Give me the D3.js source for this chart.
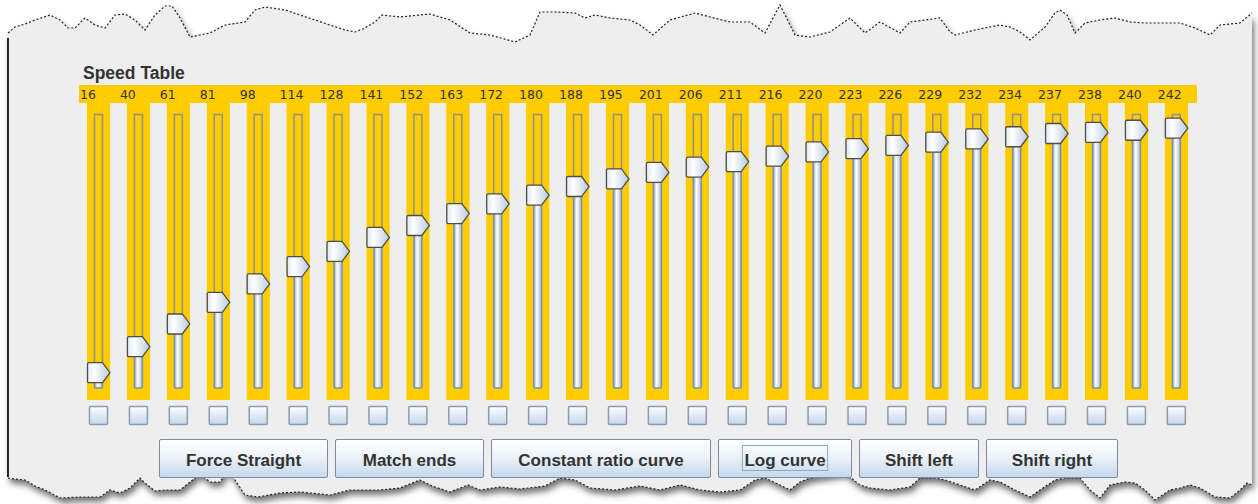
<!DOCTYPE html>
<html>
<head>
<meta charset="utf-8">
<script src="https://cdn.jsdelivr.net/npm/d3@7"></script>
<style>
  body { margin: 0; background: #ffffff; }
  svg { display: block; }
</style>
</head>
<body>
<div id="chart"></div>
<script>
// Speed table values (one slider per speed step)
var speedSteps = d3.range(1, 29);
var speedValues = [16, 40, 61, 81, 98, 114, 128, 141, 152, 163, 172, 180, 188, 195,
                   201, 206, 211, 216, 220, 223, 226, 229, 232, 234, 237, 238, 240, 242];
var valueDomain = [0, 255];
var buttonLabels = ["Force Straight", "Match ends", "Constant ratio curve", "Log curve", "Shift left", "Shift right"];
var buttonWidths = [168, 148, 219, 133, 119, 131];
var focusedButton = "Log curve";
var title = "Speed Table";

// torn paper edge outline (decoration only)
var topEdge = [[8,33],[15,27],[25,24],[35,20],[50,15],[60,20],[68,28],[75,28],[85,18],[95,25],[105,28],[115,15],[125,14],[135,20],[145,30],[155,15],[165,6],[172,6],[180,18],[190,37],[200,35],[210,33],[225,25],[245,22],[255,10],[265,7],[285,10],[300,15],[315,20],[330,25],[345,30],[355,32],[365,28],[375,22],[382,15],[400,17],[430,14],[450,20],[470,33],[490,35],[515,42],[530,35],[540,12],[555,12],[575,13],[585,18],[595,15],[610,18],[630,20],[640,25],[653,35],[670,20],[695,13],[710,17],[730,22],[750,22],[765,33],[780,5],[795,35],[810,37],[830,32],[850,18],[865,33],[880,22],[900,33],[910,22],[925,20],[940,18],[950,32],[955,35],[975,30],[1000,25],[1010,27],[1020,32],[1030,40],[1045,27],[1055,13],[1060,10],[1067,15],[1075,33],[1085,23],[1100,20],[1115,18],[1130,22],[1145,23],[1160,23],[1180,23],[1195,28],[1210,35],[1220,25],[1240,23],[1252,13]];
var bottomEdge = [[8,478],[15,479],[25,480],[35,486],[45,490],[60,498],[80,497],[100,497],[110,490],[120,493],[130,488],[140,478],[145,483],[155,491],[165,490],[180,490],[195,478],[200,474],[210,482],[220,482],[228,470],[235,480],[245,495],[258,497],[280,493],[300,492],[330,495],[350,490],[380,490],[400,488],[420,480],[432,486],[450,492],[468,485],[480,490],[500,487],[520,489],[545,486],[560,478],[575,480],[590,488],[615,490],[640,486],[660,490],[680,485],[700,490],[720,492],[740,490],[755,480],[765,478],[780,485],[790,490],[800,482],[810,478],[845,473],[860,485],[870,488],[890,490],[910,487],[920,478],[935,478],[945,480],[960,485],[975,490],[990,480],[1000,482],[1015,490],[1030,497],[1040,490],[1055,480],[1065,478],[1080,478],[1090,490],[1100,498],[1110,485],[1125,482],[1135,483],[1145,490],[1155,500],[1170,490],[1180,488],[1190,485],[1200,488],[1215,497],[1230,498],[1240,490],[1247,483],[1252,485]];

var width = 1258, height = 504;

var svg = d3.select("#chart").append("svg")
    .attr("width", width)
    .attr("height", height);

var defs = svg.append("defs");

// drop shadow for the torn panel
var shadow = defs.append("filter").attr("id", "shadow")
    .attr("x", "-5%").attr("y", "-10%").attr("width", "110%").attr("height", "125%");
shadow.append("feDropShadow")
    .attr("dx", 2).attr("dy", 5).attr("stdDeviation", 3)
    .attr("flood-color", "#444").attr("flood-opacity", 0.75);

function gradient(id, horizontal, stops) {
    var g = defs.append("linearGradient").attr("id", id)
        .attr("x1", 0).attr("y1", 0)
        .attr("x2", horizontal ? 1 : 0).attr("y2", horizontal ? 0 : 1);
    stops.forEach(function (s) {
        g.append("stop").attr("offset", s[0]).attr("stop-color", s[1]);
    });
}
gradient("thumbFill", true, [["0%", "#dde8f4"], ["30%", "#ffffff"], ["100%", "#b7cbe1"]]);
gradient("trackFill", true, [["0%", "#8ea3bd"], ["40%", "#ffffff"], ["100%", "#a4b8d1"]]);
gradient("boxFill", false, [["0%", "#ffffff"], ["100%", "#c3d5ea"]]);
gradient("buttonFill", false, [["0%", "#ffffff"], ["45%", "#edf3fa"], ["100%", "#c5d7eb"]]);

// panel with torn top / bottom edges
var outline = topEdge.concat(bottomEdge.slice().reverse());
var line = d3.line();

svg.append("path")
    .attr("d", line(outline) + "Z")
    .attr("fill", "#eeeeee")
    .attr("filter", "url(#shadow)");

svg.append("path")
    .attr("d", line(topEdge))
    .attr("fill", "none")
    .attr("stroke", "#222")
    .attr("stroke-width", 1.2)
    .attr("stroke-dasharray", "2,2");

svg.append("path")
    .attr("d", line(bottomEdge))
    .attr("fill", "none")
    .attr("stroke", "#222")
    .attr("stroke-width", 1.2)
    .attr("stroke-dasharray", "2,2");

svg.append("line")
    .attr("x1", 8).attr("x2", 8)
    .attr("y1", 38).attr("y2", 477)
    .attr("stroke", "#111").attr("stroke-width", 1.8);

// scales
var x = d3.scaleBand()
    .domain(speedSteps)
    .range([87, 1188])
    .paddingInner(0.42)
    .paddingOuter(0);

var y = d3.scaleLinear()
    .domain(valueDomain)
    .range([390, 114]);

var bw = x.bandwidth();
var headerTop = 85, headerBottom = 103, colBottom = 400;
var trackTop = 114, trackBottom = 388;

// title
svg.append("text")
    .attr("x", 83).attr("y", 79)
    .attr("font-family", "'Liberation Sans', Arial, sans-serif")
    .attr("font-weight", "bold")
    .attr("font-size", 17.5)
    .attr("fill", "#333")
    .text(title);

// yellow header band
var firstX = x(speedSteps[0]), lastX = x(speedSteps[speedSteps.length - 1]);
svg.append("rect")
    .attr("x", firstX - 8)
    .attr("y", headerTop)
    .attr("width", lastX + bw + 9 - (firstX - 8))
    .attr("height", headerBottom - headerTop)
    .attr("fill", "#ffcc00");

var data = speedSteps.map(function (s, i) { return {step: s, value: speedValues[i]}; });

var cols = svg.selectAll(".col")
    .data(data)
    .enter().append("g")
    .attr("class", "col")
    .attr("transform", function (d) { return "translate(" + x(d.step) + ",0)"; });

cols.append("rect")
    .attr("x", 0).attr("y", headerBottom - 1)
    .attr("width", bw)
    .attr("height", colBottom - headerBottom + 1)
    .attr("fill", "#ffcc00");

cols.append("text")
    .attr("x", -7).attr("y", 99)
    .attr("font-family", "'DejaVu Sans', Verdana, sans-serif")
    .attr("font-size", 12.5)
    .attr("fill", "#333")
    .text(function (d) { return d.value; });

// empty track above thumb
cols.append("rect")
    .attr("x", 7.5).attr("y", trackTop + 0.5)
    .attr("width", 8)
    .attr("height", function (d) { return Math.max(0, y(d.value) - trackTop); })
    .attr("fill", "none")
    .attr("stroke", "#8f8f8f")
    .attr("stroke-width", 1.5);

// filled track below thumb
cols.append("rect")
    .attr("x", 7.5)
    .attr("y", function (d) { return y(d.value); })
    .attr("width", 8)
    .attr("height", function (d) { return trackBottom - y(d.value); })
    .attr("fill", "url(#trackFill)")
    .attr("stroke", "#7f90a6")
    .attr("stroke-width", 1.5)
    .attr("rx", 1);

// thumbs
cols.append("path")
    .attr("transform", function (d) { return "translate(0.5," + y(d.value) + ")"; })
    .attr("d", "M1.5,-10 L15,-10 L22.5,0 L15,10 L1.5,10 Q0,10 0,8.5 L0,-8.5 Q0,-10 1.5,-10 Z")
    .attr("fill", "url(#thumbFill)")
    .attr("stroke", "#4d4d4d")
    .attr("stroke-width", 1.3);

// checkboxes
cols.append("rect")
    .attr("x", 2.5).attr("y", 406.5)
    .attr("width", 18).attr("height", 18)
    .attr("rx", 1)
    .attr("fill", "url(#boxFill)")
    .attr("stroke", "#8c9cb0")
    .attr("stroke-width", 1.5);

// buttons
var btnX = 159, btnTop = 439, btnH = 38, btnGap = 8;
buttonLabels.forEach(function (label, i) {
    var g = svg.append("g");
    var bwid = buttonWidths[i];
    g.append("rect")
        .attr("x", btnX + 0.5).attr("y", btnTop + 0.5)
        .attr("width", bwid).attr("height", btnH)
        .attr("rx", 1.5)
        .attr("fill", "url(#buttonFill)")
        .attr("stroke", "#7a8ca3")
        .attr("stroke-width", 1);
    var t = g.append("text")
        .attr("x", btnX + bwid / 2 + 0.5)
        .attr("y", 466)
        .attr("text-anchor", "middle")
        .attr("font-family", "'Liberation Sans', Arial, sans-serif")
        .attr("font-weight", "bold")
        .attr("font-size", 17)
        .attr("fill", "#333")
        .text(label);
    var tw = t.node().getComputedTextLength();
    if (label === focusedButton) {
        g.append("rect")
            .attr("x", btnX + bwid / 2 - tw / 2 - 1.5)
            .attr("y", 445.5)
            .attr("width", tw + 4)
            .attr("height", 25)
            .attr("fill", "none")
            .attr("stroke", "#8fa6c4")
            .attr("stroke-width", 1);
    }
    btnX += bwid + btnGap;
});
</script>
</body>
</html>
